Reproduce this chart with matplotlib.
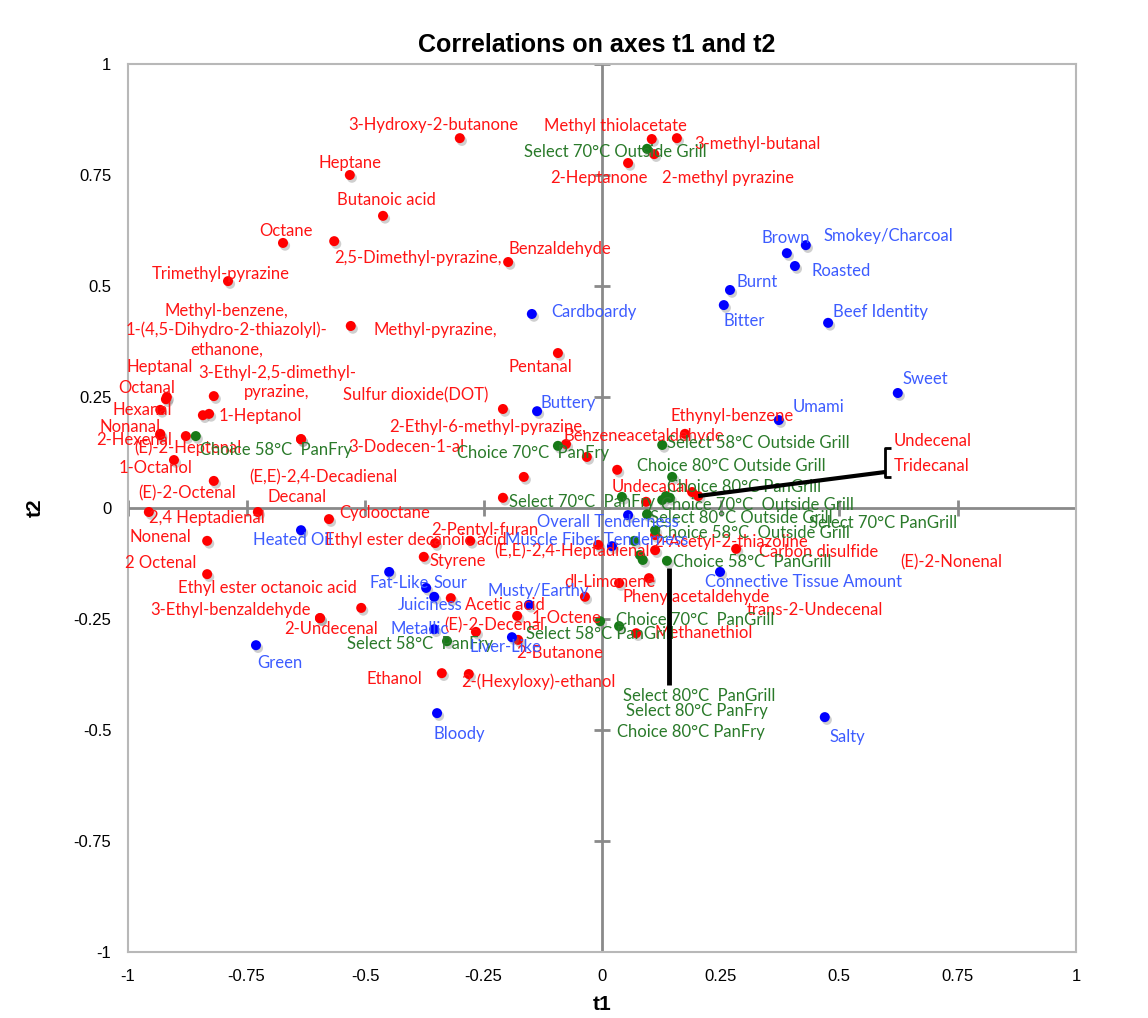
import matplotlib
matplotlib.use("Agg")
import matplotlib.pyplot as plt
import matplotlib.patheffects as pe

# compounds (red)
comp_names = ["3-Hydroxy-2-butanone", "Heptane", "Butanoic acid", "Octane", "2,5-Dimethyl-pyrazine,",
              "Benzaldehyde", "Trimethyl-pyrazine", "Methyl-pyrazine,",
              "Methyl-benzene,\n1-(4,5-Dihydro-2-thiazolyl)-\nethanone,", "3-Ethyl-2,5-dimethyl-\npyrazine,",
              "Heptanal", "Octanal", "Hexanal", "Nonanal", "2-Hexenal", "(E)-2-Heptenal", "1-Octanol",
              "(E)-2-Octenal", "2,4 Heptadienal", "1-Heptanol", "(E,E)-2,4-Decadienal", "3-Dodecen-1-al",
              "Decanal", "Nonenal", "2 Octenal", "Ethyl ester octanoic acid", "3-Ethyl-benzaldehyde",
              "2-Undecenal", "Cyclooctane", "Ethyl ester decanoic acid", "2-Pentyl-furan", "Styrene",
              "Sulfur dioxide(DOT)", "2-Ethyl-6-methyl-pyrazine,", "Pentanal", "Benzeneacetaldehyde",
              "", "", "", "Undecanal", "Undecenal", "Tridecanal", "Ethynyl-benzene",
              "Methyl thiolacetate", "3-methyl-butanal", "2-methyl pyrazine", "2-Heptanone",
              "(E,E)-2,4-Heptadienal", "2-Acetyl-2-thiazoline", "(E)-2-Nonenal", "Carbon disulfide",
              "dl-Limonene", "Phenylacetaldehyde", "trans-2-Undecenal", "Methanethiol", "1-Octene",
              "2-Butanone", "(E)-2-Decenal", "Acetic acid", "Ethanol", "2-(Hexyloxy)-ethanol"]
comp_t1 = [-0.300, -0.532, -0.462, -0.673, -0.565, -0.198, -0.789, -0.530, -0.819, -0.842,
           -0.918, -0.920, -0.932, -0.932, -0.932, -0.878, -0.903, -0.819, -0.956, -0.829,
           -0.635, -0.635, -0.726, -0.833, -0.833, -0.508, -0.595, -0.595, -0.576, -0.352,
           -0.278, -0.376, -0.209, -0.165, -0.093, -0.076, -0.032, -0.209, 0.032, 0.093,
           0.190, 0.203, 0.175, 0.105, 0.158, 0.110, 0.055, -0.008, 0.112, 0.112,
           0.283, 0.036, 0.099, -0.036, 0.072, -0.179, -0.177, -0.266, -0.319, -0.338, -0.281]
comp_t2 = [0.833, 0.750, 0.658, 0.597, 0.601, 0.554, 0.511, 0.410, 0.252, 0.209,
           0.250, 0.245, 0.221, 0.167, 0.164, 0.162, 0.108, 0.061, -0.009, 0.212,
           0.155, 0.155, -0.009, -0.074, -0.149, -0.225, -0.248, -0.248, -0.025, -0.079,
           -0.074, -0.110, 0.223, 0.070, 0.349, 0.144, 0.115, 0.023, 0.086, 0.014,
           0.036, 0.027, 0.167, 0.831, 0.833, 0.797, 0.777, -0.083, -0.061, -0.095,
           -0.092, -0.169, -0.158, -0.200, -0.282, -0.243, -0.297, -0.279, -0.203, -0.372, -0.374]
comp_off = [(-26, 13), (0, 12), (3, 16), (3, 12), (84, -17), (52, 13), (-7, 7), (85, -4),
            (13, 66), (74, 33), (-7, 30), (-19, 11), (-18, 0), (-30, 7), (-26, -5), (2, -12),
            (-18, -8), (-27, -12), (58, -6), (51, -2), (22, -38), (105, -8), (39, 15), (-47, 4),
            (-46, 11), (-94, 20), (-89, 8), (11, -11), (56, 6), (-19, 3), (15, 11), (34, -4),
            (-87, 14), (-36, 50), (-18, -14), (78, 8), (0, 0), (0, 0), (0, 0), (4, 15),
            (241, 51), (233, 30), (47, 18), (-36, 13), (81, -6), (74, -24), (-29, -15),
            (-26, -6), (75, -7), (296, -12), (82, -3), (-9, 1), (47, -19), (230, -13),
            (68, 0), (49, -2), (42, -13), (18, 7), (54, -7), (-47, -6), (70, -8)]

# samples (green)
samp_names = ["Select 70°C Outside Grill", "Choice 58°C  PanFry", "Choice 70°C  PanFry",
              "Select 70°C  PanFry", "Select 58°C Outside Grill", "Choice 80°C Outside Grill",
              "Choice 80°C PanGrill", "Choice 70°C  Outside Grill", "Select 70°C PanGrill",
              "Select 80°C Outside Grill", "Choice 58°C  Outside Grill", "Choice 58°C  PanGrill",
              "Choice 70°C  PanGrill", "Select 58°C PanGrill", "Select 58°C  PanFry",
              "Select 80°C  PanGrill", "Select 80°C PanFry", "Choice 80°C PanFry"]
samp_t1 = [0.095, -0.857, -0.093, 0.042, 0.127, 0.148, 0.135, 0.127, 0.143,
           0.095, 0.112, 0.137, 0.036, -0.004, -0.327, 0.086, 0.068, 0.080]
samp_t2 = [0.809, 0.162, 0.140, 0.025, 0.142, 0.070, 0.027, 0.018, 0.023,
           -0.014, -0.050, -0.119, -0.266, -0.255, -0.300, -0.117, -0.074, -0.106]
samp_off = [(-32, -3), (80, -14), (-25, -7), (-40, -5), (96, 2), (59, 11), (78, 9), (95, -5),
            (213, -25), (94, -4), (98, -3), (85, -1), (76, 6), (0, -13), (-27, -3),
            (56, -136), (63, -170), (51, -177)]

# sensory attributes (blue)
attr_names = ["Brown", "Smokey/Charcoal", "Roasted", "Burnt", "Bitter", "Beef Identity",
              "Cardboardy", "Buttery", "Umami", "Sweet", "Overall Tenderness",
              "Muscle Fiber Tenderness", "Connective Tissue Amount", "Salty", "Heated Oil",
              "Fat-Like", "Sour", "Juiciness", "Musty/Earthy", "Metallic", "Liver-Like",
              "Green", "Bloody"]
attr_t1 = [0.390, 0.430, 0.407, 0.270, 0.257, 0.477, -0.148, -0.137, 0.373, 0.624, 0.055,
           0.021, 0.249, 0.470, -0.635, -0.449, -0.371, -0.354, -0.154, -0.354, -0.190,
           -0.730, -0.348]
attr_t2 = [0.574, 0.592, 0.545, 0.491, 0.457, 0.417, 0.437, 0.218, 0.198, 0.259, -0.016,
           -0.086, -0.144, -0.471, -0.050, -0.144, -0.180, -0.200, -0.218, -0.273, -0.291,
           -0.309, -0.462]
attr_off = [(-1, 15), (83, 9), (46, -5), (27, 8), (20, -16), (52, 11), (62, 2), (31, 8),
            (40, 13), (28, 14), (-20, -7), (-15, 6), (83, -10), (23, -20), (-8, -10),
            (10, -11), (24, 5), (-4, -8), (9, 14), (-15, 0), (-7, -10), (24, -18), (22, -21)]

ticks = [-1, -0.75, -0.5, -0.25, 0, 0.25, 0.5, 0.75, 1]
tick_labels = ["-1", "-0.75", "-0.5", "-0.25", "0", "0.25", "0.5", "0.75", "1"]

fig = plt.figure(figsize=(11.48, 10.18), dpi=100)
ax = fig.add_axes([128 / 1148, 1 - 952 / 1018, 948 / 1148, 888 / 1018])
ax.set_xlim(-1, 1)
ax.set_ylim(-1, 1)
for s in ax.spines.values():
    s.set_color("#b8b8b8")
    s.set_linewidth(1.5)
ax.set_xticks(ticks)
ax.set_xticklabels(tick_labels, fontsize=12, family="Liberation Sans")
ax.set_yticks(ticks)
ax.set_yticklabels(tick_labels, fontsize=12, family="Liberation Sans")
ax.tick_params(length=0, pad=12)

# axes through the origin with cross ticks
ax.axhline(0, color="#8a8a8a", lw=2, zorder=1)
ax.axvline(0, color="#8a8a8a", lw=2, zorder=1)
ax.plot(ticks, [0] * len(ticks), ls="none", marker="|", ms=11, mew=2, color="#8a8a8a", zorder=1)
ax.plot([0] * len(ticks), ticks, ls="none", marker="_", ms=11, mew=2, color="#8a8a8a", zorder=1)

shadow = [pe.SimplePatchShadow(offset=(1.5, -2), shadow_rgbFace="#777777", alpha=0.35), pe.Normal()]
groups = [(comp_t1, comp_t2, comp_names, comp_off, "#ff0000", "#ff1414"),
          (samp_t1, samp_t2, samp_names, samp_off, "#177a17", "#2a7a2a"),
          (attr_t1, attr_t2, attr_names, attr_off, "#0000ff", "#3d5cff")]
for xs, ys, names, offs, c, tc in groups:
    sc = ax.scatter(xs, ys, s=52, color=c, edgecolors="none", zorder=3)
    sc.set_path_effects(shadow)
    for x, y, n, (dx, dy) in zip(xs, ys, names, offs):
        if n:
            ax.annotate(n, (x, y), xytext=(dx, dy), textcoords="offset pixels",
                        ha="center", va="center", color=tc, fontsize=12, family="Lato",
                        linespacing=1.25, zorder=4)


def leader(px, py, pts, lw):
    # polyline given as pixel offsets from a data point
    tr = ax.transData
    base = tr.transform((px, py))
    d = tr.inverted().transform([(base[0] + dx, base[1] + dy) for dx, dy in pts])
    ax.plot(d[:, 0], d[:, 1], color="black", lw=lw, zorder=5, solid_capstyle="butt")


it = comp_names.index("Tridecanal")
leader(comp_t1[it], comp_t2[it], [(0, 0), (187, 24)], 3)
leader(comp_t1[it], comp_t2[it], [(193, 48), (187, 48), (187, 19), (193, 19)], 2)
ic = samp_names.index("Choice 58°C  PanGrill")
leader(samp_t1[ic], samp_t2[ic], [(2, -7), (2, -124)], 3.5)

fig.text(597 / 1148, 1 - 45 / 1018, "Correlations on axes t1 and t2", ha="center", va="center",
         fontsize=18, fontweight="bold", family="Liberation Sans")
fig.text(602 / 1148, 1 - 1004 / 1018, "t1", ha="center", va="center",
         fontsize=15, fontweight="bold", family="Liberation Sans")
fig.text(35 / 1148, 1 - 508 / 1018, "t2", ha="center", va="center", rotation=90,
         fontsize=15, fontweight="bold", family="Liberation Sans")

fig.savefig("out.png", dpi=100)
